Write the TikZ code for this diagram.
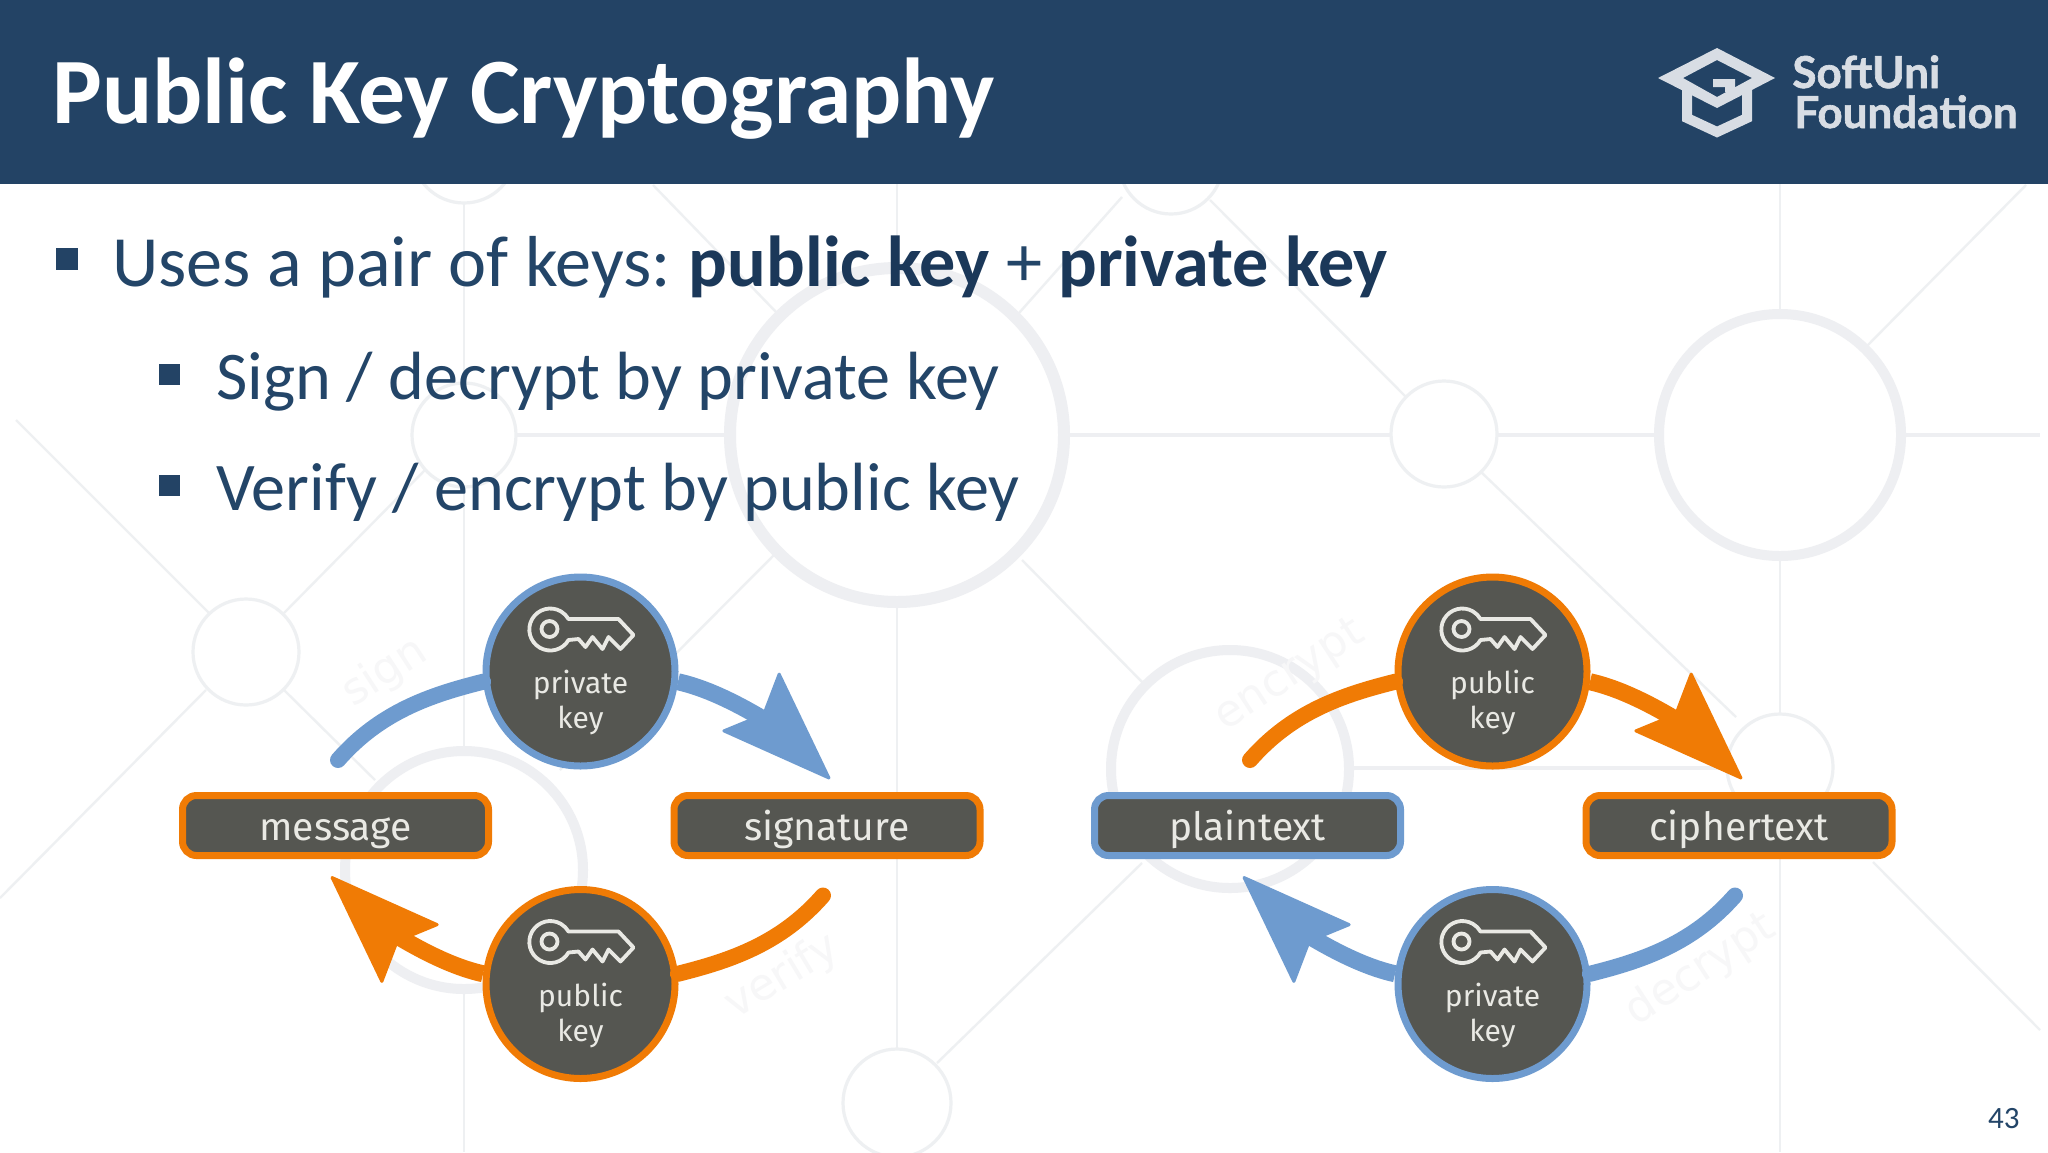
\documentclass[tikz,border=0pt]{standalone}
\usepackage{fontspec}
\setmainfont{Carlito}
\newfontfamily\dgmfont{Fira Sans}
\newfontfamily\logofont[BoldFeatures={FakeBold=1.4}]{Lato}
\newfontfamily\wmfont{DejaVu Sans}
\usetikzlibrary{arrows.meta}
\definecolor{hdr}{HTML}{234365}
\definecolor{bodyblue}{HTML}{234568}
\definecolor{boldblue}{HTML}{1B3859}
\definecolor{bgline}{HTML}{EEF0F2}
\definecolor{bgthick}{HTML}{EEEFF2}
\definecolor{wm}{HTML}{F7F7F8}
\definecolor{arcblue}{HTML}{6E9BCF}
\definecolor{arcorange}{HTML}{F07B05}
\definecolor{slate}{HTML}{555651}
\definecolor{chalk}{HTML}{E9E9E4}
\definecolor{logoc}{HTML}{D8DDE4}
\tikzset{
  thinbg/.style={draw=bgline,line width=1.2pt},
  midbg/.style={draw=bgthick,line width=2.2pt},
  ringbg/.style={draw=bgthick,line width=#1},
  ringbg/.default=5pt,
  smallring/.style={draw=bgline,line width=1.6pt},
  wmtext/.style={text=wm,inner sep=0pt,font=\wmfont\fontsize{22}{22}\selectfont},
  itembox/.style={draw=#1,fill=slate,line width=3.5pt,rounded corners=7pt,minimum width=153pt,minimum height=30pt,inner sep=0pt,
     text=chalk,font=\dgmfont\fontsize{19.5}{19.5}\selectfont,text height=14.5pt,text depth=0pt},
  keydisc/.style={draw=#1,fill=slate,line width=3.5pt,circle,minimum size=94.5pt,inner sep=0pt},
  disclabel/.style={text=chalk,font=\dgmfont\fontsize{15}{17.5}\selectfont,align=center,inner sep=0pt},
  tailarc/.style={draw=#1,line width=8pt,line cap=round},
  headarc/.style={draw=#1,line width=1.5pt,-{Stealth[round,length=57.5pt,width=42pt,inset=9pt,fill=#1]}},
  shaftarc/.style={draw=#1,line width=8.5pt},
  keyline/.style={draw=chalk,line width=1.9pt,line join=round},
  headline/.style={text=white,inner sep=0pt,anchor=base west,font=\bfseries\fontsize{46.8}{46.8}\selectfont},
  bodyline/.style={text=bodyblue,inner sep=0pt,anchor=base west},
  bulletsq/.style={fill=hdr,draw=none,inner sep=0pt,minimum size=#1,rectangle},
  logotext/.style={text=logoc,inner sep=0pt,anchor=base west,font=\logofont\bfseries\fontsize{22}{22}\selectfont},
}
\newcommand{\keyglyph}[2]{%
  \begin{scope}[shift={(#1,#2)}]
    \draw[keyline] (-12,-33.5) arc[start angle=30,end angle=330,radius=21] -- (38,-54.5) -- (53,-38.5) -- (40,-24.5) -- (28,-36.5) -- (22,-24.5) -- (12,-36.5) -- (5,-26.5) -- (-2,-34.5) -- cycle;
    \draw[keyline] (-31,-44.5) circle[radius=8];
  \end{scope}}
% #1 prefix #2 dx #3 top colour #4 top label #5 bottom colour #6 bottom label #7 left label #8 left colour #9 right label
\newcommand{\cryptcycle}[9]{%
  \begin{scope}[shift={(#2,0)}]
    \node[itembox=#8] (#1left) at (335.5,825.5) {#7};
    \node[itembox=arcorange] (#1right) at (827,825.5) {#9};
    \node[keydisc=#3] (#1top) at (580.5,671.5) {};
    \node[keydisc=#5] (#1bot) at (580.5,984) {};
    \keyglyph{580.5}{673.5}
    \keyglyph{580.5}{986}
    \node[disclabel] (#1toptext) at (580.5,702.5) {#4};
    \node[disclabel] (#1bottext) at (580.5,1015) {#6};
    \coordinate (#1tailA) at (338,760);
    \coordinate (#1tipA) at (830,779);
    \coordinate (#1tailB) at (823,895.5);
    \coordinate (#1tipB) at (331,876.5);
    \coordinate (#1neckA) at (768,722);
    \coordinate (#1neckB) at (393,933.5);
    \draw[tailarc=#3] (#1tailA) .. controls (380,712) and (430,695) .. (#1top.186);
    \draw[headarc=#3] (#1top.-6) .. controls (705,692) and (751,702) .. (#1tipA);
    \draw[shaftarc=#3] (#1top.-6) .. controls (702,687) and (732,700) .. (#1neckA);
    \draw[tailarc=#5] (#1tailB) .. controls (781,943.5) and (731,960.5) .. (#1bot.6);
    \draw[headarc=#5] (#1bot.174) .. controls (456,963.5) and (410,953.5) .. (#1tipB);
    \draw[shaftarc=#5] (#1bot.174) .. controls (459,968.5) and (429,955.5) .. (#1neckB);
  \end{scope}}
\begin{document}
\begin{tikzpicture}[x=0.5pt,y=-0.5pt]
\useasboundingbox (0,0) rectangle (2048,1152);
\fill[white] (0,0) rectangle (2048,1152);
% background network
\draw[thinbg] (464,204) -- (464,382) (464,488) -- (464,748) (464,993) -- (464,1152);
\draw[thinbg] (897,184) -- (897,262) (897,607) -- (897,1048);
\draw[thinbg] (1780,184) -- (1780,310) (1780,560) -- (1780,713) (1780,820) -- (1780,1152);
\draw[thinbg] (653,185) -- (777,313) (777,552) -- (560,770);
\draw[thinbg] (16,420) -- (209,613) (284,613) -- (425,470) (206,690) -- (0,898) (284,690) -- (375,780);
\draw[thinbg] (1019,313) -- (1122,197) (1022,560) -- (1145,685);
\draw[thinbg] (1210,200) -- (1406,397) (1481,472) -- (1736,717);
\draw[thinbg] (2026,185) -- (1863,350) (1873,862) -- (2040,1030);
\draw[thinbg] (937,1063) -- (1142,863);
\draw[midbg] (516,435) -- (730,435) (1064,435) -- (1391,435) (1498,435) -- (1654,435) (1906,435) -- (2040,435) (1347,768) -- (1726,768);
\draw[ringbg=6pt] (897,435) circle[radius=167];
\draw[ringbg] (464,870) circle[radius=119];
\draw[ringbg] (1230,769) circle[radius=119];
\draw[ringbg] (1780,435) circle[radius=121];
\draw[smallring] (464,435) circle[radius=52];
\draw[smallring] (246,652) circle[radius=53];
\draw[smallring] (897,1103) circle[radius=54];
\draw[smallring] (464,151) circle[radius=52];
\draw[smallring] (1171,162) circle[radius=52];
\draw[smallring] (1444,434) circle[radius=53];
\draw[smallring] (1780,767) circle[radius=53];
\node[wmtext,rotate=33] (wmsign) at (385,673) {sign};
\node[wmtext,rotate=31] (wmverify) at (782,977) {verify};
\node[wmtext,rotate=33] (wmencrypt) at (1290,676) {encrypt};
\node[wmtext,rotate=33] (wmdecrypt) at (1701,970) {decrypt};
% header
\fill[hdr] (0,0) rectangle (2048,184);
\node[headline] (title) at (52,123) {Public Key Cryptography};
% logo
\fill[logoc,even odd rule] (1717,48) -- (1775,78) -- (1717,108) -- (1658,78) -- cycle (1717,60) -- (1752,78) -- (1717,97) -- (1683,78) -- cycle;
\draw[logoc,line width=5pt,miter limit=4] (1687,90) -- (1687,118) -- (1717,132) -- (1747,118) -- (1747,90);
\fill[logoc] (1713,79) -- (1735,79) -- (1735,92) -- (1725,92) -- (1725,87) -- (1713,87) -- cycle;
\fill[hdr] (1728,117) -- (1729,106) -- (1735,103) -- (1735,112) -- cycle;
\node[logotext] (logoa) at (1792,88) {SoftUni};
\node[logotext] (logob) at (1794,128) {Foundation};
% bullets
\node[bulletsq=11pt] (b1) at (67,259) {};
\node[bulletsq=10.5pt] (b2) at (169.5,374) {};
\node[bulletsq=10.5pt] (b3) at (169.5,485) {};
\node[bodyline,font=\fontsize{36.1}{36.1}\selectfont] (t1) at (112,286.5) {Uses a pair of keys:\hspace{.25em}{\bfseries\color{boldblue}public key} + {\bfseries\color{boldblue}private key}};
\node[bodyline,font=\fontsize{34.1}{34.1}\selectfont] (t2) at (216,399.5) {Sign / decrypt by private key};
\node[bodyline,font=\fontsize{34.1}{34.1}\selectfont] (t3) at (216,510.5) {Verify / encrypt by public key};
% diagrams
\cryptcycle{a}{0}{arcblue}{private\\key}{arcorange}{public\\key}{message}{arcorange}{signature}
\cryptcycle{b}{912}{arcorange}{public\\key}{arcblue}{private\\key}{plaintext}{arcblue}{ciphertext}
\node[text=bodyblue,inner sep=0pt,anchor=base east,font=\fontsize{15.5}{15.5}\selectfont] (pageno) at (2020,1128) {43};
\end{tikzpicture}
\end{document}
